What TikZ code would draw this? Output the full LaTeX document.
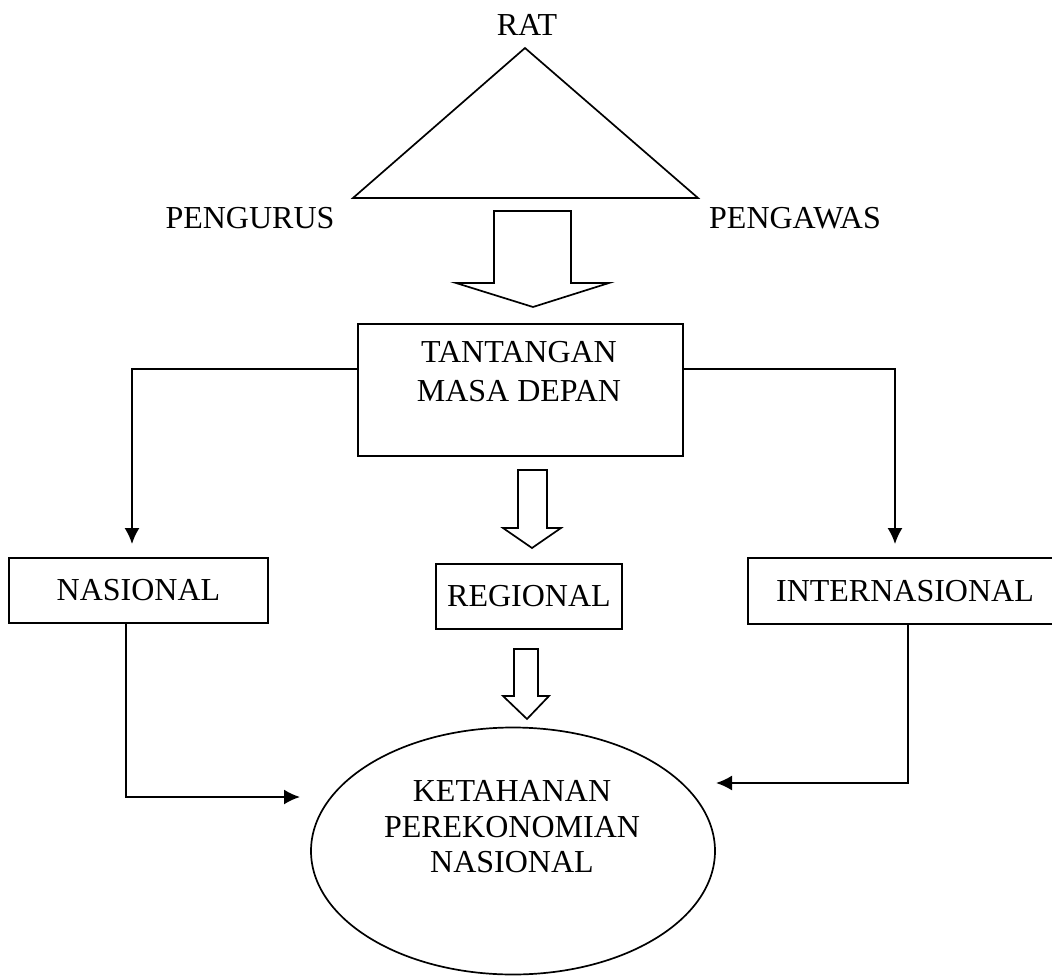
\documentclass[tikz,border=0pt]{standalone}
\usepackage{fontspec}
\setmainfont{Liberation Serif}
\usetikzlibrary{arrows.meta,shapes.geometric}

\tikzset{
  box/.style={draw, line width=1.9pt, inner sep=0pt},
  lbl/.style={font=\fontsize{32}{36}\selectfont, inner sep=0pt, align=center},
  conn/.style={line width=1.9pt, -{Latex[length=16pt,width=15pt]}},
  hollow/.style={draw, line width=1.7pt, fill=white}
}

\begin{document}
\begin{tikzpicture}[x=1pt,y=-1pt]
  \useasboundingbox (0,0) rectangle (1052,976);

  % top: RAT with the triangle
  \node[lbl] (rat) at (527,25) {RAT};
  \coordinate (apex) at (525,48);
  \coordinate (baseleft) at (353,198);
  \coordinate (baseright) at (698,198);
  \draw[line width=1.7pt, line join=miter] (apex) -- (baseright) -- (baseleft) -- cycle;
  \node[lbl] (pengurus) at (250,218) {PENGURUS};
  \node[lbl] (pengawas) at (795,218) {PENGAWAS};

  % big hollow arrow
  \draw[hollow] (494,211) -- (571,211) -- (571,283) -- (609,283) -- (533,307)
    -- (456,283) -- (494,283) -- cycle;

  % middle box
  \node[box, minimum width=325pt, minimum height=132pt] (tantangan) at (520.5,390) {};
  \node[lbl, font=\fontsize{32}{39}\selectfont] (tantanganlbl) at (519,372) {TANTANGAN\\MASA DEPAN};

  % three boxes
  \node[box, lbl, minimum width=259pt, minimum height=65pt] (nasional) at (138.5,590.5) {NASIONAL};
  \node[box, lbl, minimum width=186pt, minimum height=65pt] (regional) at (529,596.5) {REGIONAL};
  \node[box, lbl, minimum width=308pt, minimum height=66pt, text width=308pt] (internasional) at (902,591) {\hspace*{6pt}INTERNASIONAL};

  % small hollow arrows
  \draw[hollow] (518,470) -- (547,470) -- (547,528) -- (561,528) -- (532,548)
    -- (503,528) -- (518,528) -- cycle;
  \draw[hollow] (514,649) -- (538,649) -- (538,696) -- (549,696) -- (527,719)
    -- (503,696) -- (514,696) -- cycle;

  % ellipse
  \node[draw, ellipse, line width=1.7pt, minimum width=404pt, minimum height=247pt] (ketahanan) at (513,851) {};
  \node[lbl, font=\fontsize{32}{35.5}\selectfont] (ketahananlbl) at (512,827) {KETAHANAN\\PEREKONOMIAN\\NASIONAL};

  % connectors
  \draw[conn, shorten >=13pt] ([yshift=21pt]tantangan.west) -| ([xshift=-6.5pt]nasional.north);
  \draw[conn, shorten >=13pt] ([yshift=21pt]tantangan.east) -| ([xshift=-7pt]internasional.north);
  \coordinate (lefttip) at (300,797);
  \coordinate (righttip) at (716,783);
  \draw[conn] ([xshift=-12.5pt]nasional.south) |- (lefttip);
  \draw[conn] ([xshift=6pt]internasional.south) |- (righttip);
\end{tikzpicture}
\end{document}
